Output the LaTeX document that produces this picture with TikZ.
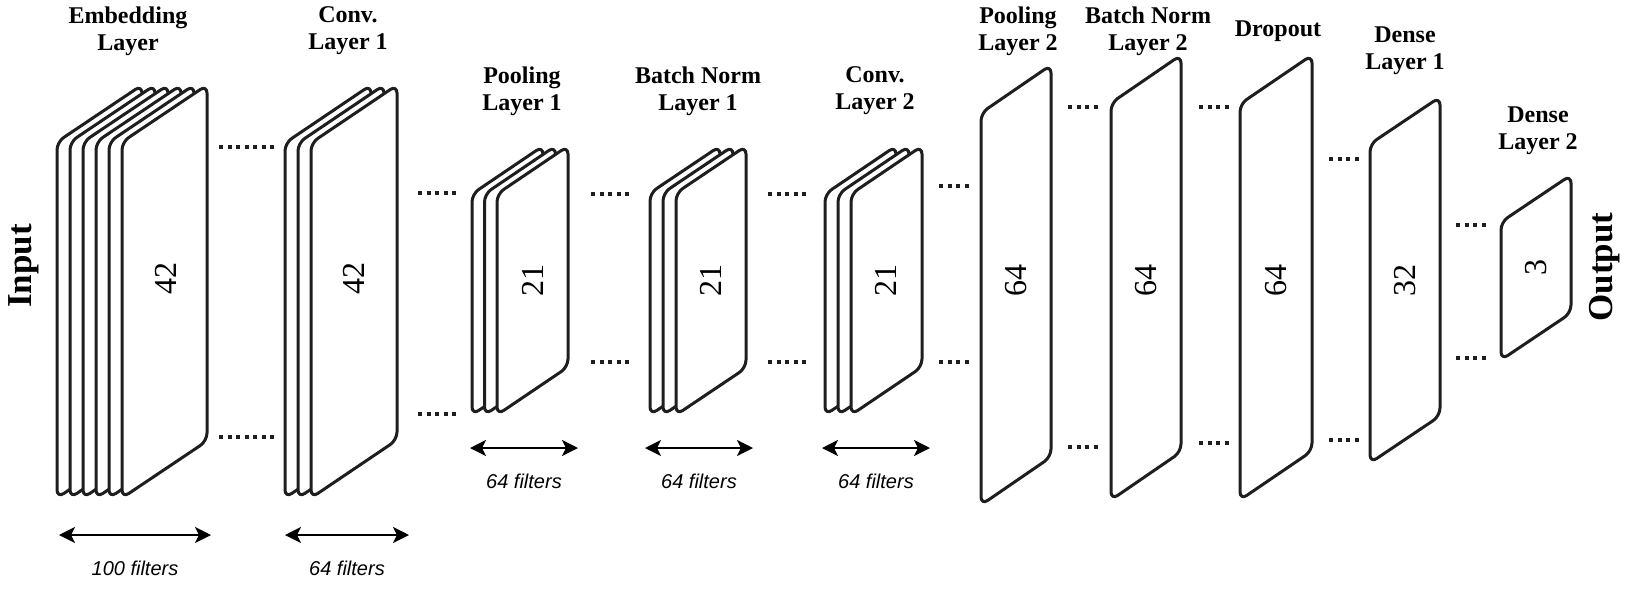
\documentclass[tikz,border=0pt]{standalone}
\usepackage{fontspec}
\setmainfont{Liberation Serif}
\newfontfamily\filterfont{Liberation Sans}
\usetikzlibrary{arrows.meta}
\definecolor{inkline}{RGB}{30,30,30}

\tikzset{
  plate/.style={draw=inkline, line width=1.5pt, fill=white, rounded corners=4pt, line join=round},
  gapdots/.style={draw=inkline, line width=2pt, dash pattern=on 2pt off 2.25pt},
  sizearrow/.style={draw=black, line width=1pt,
    {Stealth[length=8pt,width=8pt,inset=2pt]}-{Stealth[length=8pt,width=8pt,inset=2pt]}},
  title/.style={font=\bfseries\fontsize{12}{13.5}\selectfont, align=center},
  count/.style={font=\fontsize{16}{16}\selectfont, rotate=90},
  side/.style={font=\bfseries\fontsize{17.5}{17.5}\selectfont, rotate=90},
  filters/.style={font=\filterfont\itshape\fontsize{10}{10}\selectfont},
}

% one plate: left x, right x, top y, bottom y, rise
\newcommand{\layerplate}[5]{%
  \draw[plate] (#1,#3+#5) -- (#2,#3) -- (#2,#4-#5) -- (#1,#4) -- cycle;}

\begin{document}
\begin{tikzpicture}[x=0.5pt, y=-0.5pt]
\useasboundingbox (0,0) rectangle (1630,606);

% stacked plates, back to front
\foreach \i in {0,...,5} {\layerplate{57+13*\i}{142+13*\i}{85}{498}{57}}
\foreach \i in {0,...,2} {\layerplate{285+13*\i}{371+13*\i}{85}{498}{58}}
\foreach \i in {0,...,2} {\layerplate{472+12.5*\i}{543+12.5*\i}{146}{415}{48}}
\foreach \i in {0,...,2} {\layerplate{650+13*\i}{720+13*\i}{146}{415}{47}}
\foreach \i in {0,...,2} {\layerplate{825+13*\i}{896+13*\i}{146}{415}{48}}

% single plates
\layerplate{981}{1051}{65}{505}{48}
\layerplate{1111}{1181}{55}{500}{48}
\layerplate{1240}{1312}{55}{500}{49}
\layerplate{1370}{1440}{97}{463}{47}
\layerplate{1501}{1571}{175}{360}{47}

% sizes
\node[count] (emb) at (166,278) {42};
\node[count] (conv1) at (354,278) {42};
\node[count] (pool1) at (533,280) {21};
\node[count] (bn1) at (711,280) {21};
\node[count] (conv2) at (886,280) {21};
\node[count] (pool2) at (1016,280) {64};
\node[count] (bn2) at (1146,280) {64};
\node[count] (drop) at (1276,280) {64};
\node[count] (dense1) at (1405,280) {32};
\node[count] (dense2) at (1536,267) {3};

% titles
\node[title] (embT) at (128,31) {Embedding\\Layer};
\node[title] (conv1T) at (348,31) {Conv.\\Layer 1};
\node[title] (pool1T) at (522,91) {Pooling\\Layer 1};
\node[title] (bn1T) at (698,91) {Batch Norm\\Layer 1};
\node[title] (conv2T) at (875,91) {Conv.\\Layer 2};
\node[title] (pool2T) at (1018,31) {Pooling\\Layer 2};
\node[title] (bn2T) at (1148,31) {Batch Norm\\Layer 2};
\node[title] (dropT) at (1278,31) {Dropout};
\node[title] (dense1T) at (1405,51) {Dense\\Layer 1};
\node[title] (dense2T) at (1538,131) {Dense\\Layer 2};

\node[side] (input) at (24,266) {Input};
\node[side] (output) at (1605,267) {Output};

% dotted gaps between layers
\foreach \x/\y/\len [count=\k] in {219/147/55, 219/437/55, 418/193/38, 418/414/38,
    591/194/38, 591/362/38, 768/194/38, 768/362/38, 939/186/30, 939/362/30,
    1068/107/30, 1068/447/30, 1199/107/30, 1199/443/30, 1329/159/30, 1329/440/30,
    1456/225/30, 1456/358/30} {
  \coordinate (dotL\k) at (\x,\y);
  \coordinate (dotR\k) at (\x+\len,\y);
  \draw[gapdots] (dotL\k) -- (dotR\k);
}

% filter counts
\foreach \xa/\xb/\y/\txt [count=\k] in {59/211/535/100 filters, 285/409/535/64 filters,
    470/578/448/64 filters, 645/753/448/64 filters, 822/930/448/64 filters} {
  \coordinate (arrL\k) at (\xa,\y);
  \coordinate (arrR\k) at (\xb,\y);
  \draw[sizearrow] (arrL\k) -- (arrR\k) node[filters, midway, below=9pt] {\txt};
}
\end{tikzpicture}
\end{document}
